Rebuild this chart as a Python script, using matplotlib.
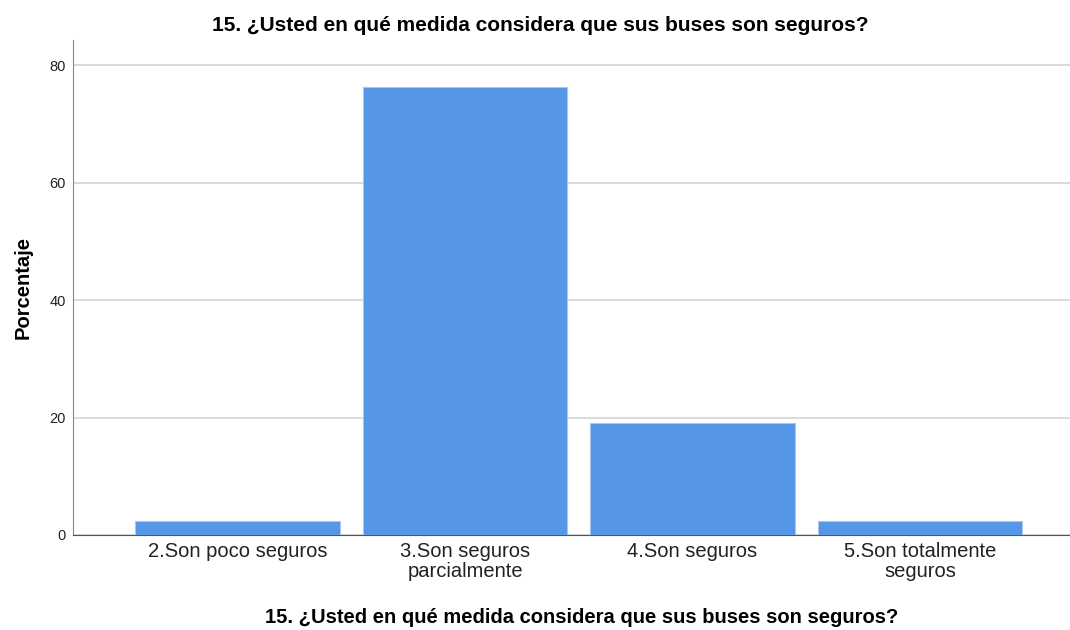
import matplotlib.pyplot as plt

plt.rcParams['font.family'] = ['Liberation Sans', 'DejaVu Sans']

categories = ['2.Son poco seguros', '3.Son seguros\nparcialmente', '4.Son seguros', '5.Son totalmente\nseguros']
porcentajes = [2.38, 76.19, 19.05, 2.38]
yticks = [0, 20, 40, 60, 80]
titulo = '15. ¿Usted en qué medida considera que sus buses son seguros?'

fig = plt.figure(figsize=(10.7, 6.3), dpi=100)
ax = fig.add_axes([0.0682, 0.1508, 0.9318, 0.7857])

x = range(len(categories))
ax.bar(x, porcentajes, width=0.9, color='#5596e6', edgecolor='#a9c8f0', linewidth=0.8, zorder=3)

ax.set_xlim(-0.723, 3.659)
ax.set_ylim(0, 84.26)
ax.set_yticks(yticks)
ax.set_xticks(list(x))
ax.set_xticklabels(categories, fontsize=14.5, color='#222222', linespacing=1.1)
ax.tick_params(axis='y', length=0, labelsize=10.5, pad=5, labelcolor='#222222')
ax.tick_params(axis='x', length=0, pad=5)
ax.grid(axis='y', color='#d4d4d4', linewidth=1.2, zorder=0)

for s in ['top', 'right']:
    ax.spines[s].set_visible(False)
ax.spines['left'].set_color('#888888')
ax.spines['bottom'].set_color('#555555')

ax.set_ylabel('Porcentaje', fontsize=14.5, fontweight='bold')
ax.yaxis.set_label_coords(-0.04, 0.5)
ax.set_xlabel(titulo, fontsize=14.5, fontweight='bold')
ax.xaxis.set_label_coords(0.51, -0.148)
fig.text(0.505, 0.96, titulo, ha='center', va='center', fontsize=15, fontweight='bold')

fig.savefig('out.png', dpi=100, facecolor='white')
